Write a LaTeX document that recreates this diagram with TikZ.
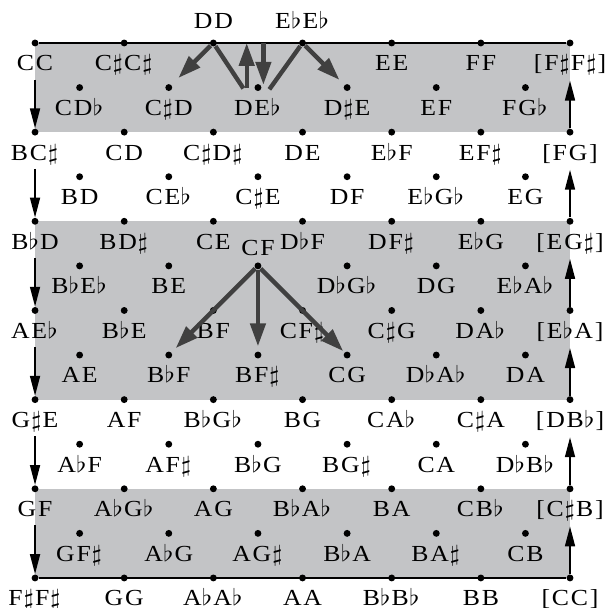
\documentclass[tikz,border=0pt]{standalone}
\usepackage{fontspec}
\setmainfont{Liberation Serif}[LetterSpace=7]
\usepackage{graphicx}
\usetikzlibrary{arrows.meta,positioning}

\definecolor{bandgray}{RGB}{195,196,198}
\definecolor{movegray}{RGB}{64,64,64}
\newcommand{\shrp}{\kern0.04em$\sharp$\kern0.05em}
\newcommand{\flt}{\kern0.02em$\flat$\kern0.05em}
\newcommand{\nlab}[1]{\scalebox{1.12}[1]{#1}}

\begin{document}
\begin{tikzpicture}[
    x=1.5cm, y=1.5cm,
    dot/.style={circle, fill=black, inner sep=0pt, minimum size=3.3pt},
    lab/.style={inner sep=0pt, text height=7.3pt, text depth=1.5pt, font=\fontsize{11}{13}\selectfont},
    sarr/.style={-{Triangle[length=9.5pt,width=4.8pt]}, line width=0.7pt},
    marr/.style={-{Triangle[length=11pt,width=7.2pt]}, line width=2.1pt, draw=movegray},
    mline/.style={line width=2.1pt, draw=movegray},
    edge/.style={line width=0.9pt}
]
\useasboundingbox (-0.393,0.482) rectangle (6.404,-6.337);
% shaded bands
\fill[bandgray] (0,0) rectangle (6,-1);
\fill[bandgray] (0,-2) rectangle (6,-4);
\fill[bandgray] (0,-5) rectangle (6,-6);

% lattice points
\foreach \r in {0,...,6}
  \foreach \c in {0,...,6}
    \node[dot] (r\r\c) at (\c,-\r) {};
\foreach \r in {0,...,5}
  \foreach \c in {0,...,5}
    \node[dot] (h\r\c) at (\c+0.5,-\r-0.5) {};

\draw[edge] (r00) -- (r06);
\draw[edge] (r60) -- (r66);

% labels
\foreach \c/\lb in {0/CC, 1/{C\shrp C\shrp}, 4/EE, 5/FF, 6/{[F\shrp F\shrp]}}
  \node[lab, below=4pt of r0\c] (lr0\c) {\nlab{\lb}};
\node[lab, above=3.5pt of r02] (lr02) {\nlab{DD}};
\node[lab, above=3.5pt of r03] (lr03) {\nlab{E\flt E\flt}};
\foreach \c/\lb in {0/{CD\flt}, 1/{C\shrp D}, 2/{DE\flt}, 3/{D\shrp E}, 4/EF, 5/{FG\flt}}
  \node[lab, below=4pt of h0\c] (lh0\c) {\nlab{\lb}};
\foreach \c/\lb in {0/{BC\shrp}, 1/CD, 2/{C\shrp D\shrp}, 3/DE, 4/{E\flt F}, 5/{EF\shrp}, 6/{[FG]}}
  \node[lab, below=4pt of r1\c] (lr1\c) {\nlab{\lb}};
\foreach \c/\lb in {0/BD, 1/{CE\flt}, 2/{C\shrp E}, 3/DF, 4/{E\flt G\flt}, 5/EG}
  \node[lab, below=4pt of h1\c] (lh1\c) {\nlab{\lb}};
\foreach \c/\lb in {0/{B\flt D}, 1/{BD\shrp}, 2/CE, 3/{D\flt F}, 4/{DF\shrp}, 5/{E\flt G}, 6/{[EG\shrp]}}
  \node[lab, below=4pt of r2\c] (lr2\c) {\nlab{\lb}};
\foreach \c/\lb in {0/{B\flt E\flt}, 1/BE, 3/{D\flt G\flt}, 4/DG, 5/{E\flt A\flt}}
  \node[lab, below=4pt of h2\c] (lh2\c) {\nlab{\lb}};
\node[lab, above=1.2pt of h22] (lh22) {\nlab{CF}};
\foreach \c/\lb in {0/{AE\flt}, 1/{B\flt E}, 2/BF, 3/{CF\shrp}, 4/{C\shrp G}, 5/{DA\flt}, 6/{[E\flt A]}}
  \node[lab, below=4pt of r3\c] (lr3\c) {\nlab{\lb}};
\foreach \c/\lb in {0/AE, 1/{B\flt F}, 2/{BF\shrp}, 3/CG, 4/{D\flt A\flt}, 5/DA}
  \node[lab, below=4pt of h3\c] (lh3\c) {\nlab{\lb}};
\foreach \c/\lb in {0/{G\shrp E}, 1/AF, 2/{B\flt G\flt}, 3/BG, 4/{CA\flt}, 5/{C\shrp A}, 6/{[DB\flt]}}
  \node[lab, below=4pt of r4\c] (lr4\c) {\nlab{\lb}};
\foreach \c/\lb in {0/{A\flt F}, 1/{AF\shrp}, 2/{B\flt G}, 3/{BG\shrp}, 4/CA, 5/{D\flt B\flt}}
  \node[lab, below=4pt of h4\c] (lh4\c) {\nlab{\lb}};
\foreach \c/\lb in {0/GF, 1/{A\flt G\flt}, 2/AG, 3/{B\flt A\flt}, 4/BA, 5/{CB\flt}, 6/{[C\shrp B]}}
  \node[lab, below=4pt of r5\c] (lr5\c) {\nlab{\lb}};
\foreach \c/\lb in {0/{GF\shrp}, 1/{A\flt G}, 2/{AG\shrp}, 3/{B\flt A}, 4/{BA\shrp}, 5/CB}
  \node[lab, below=4pt of h5\c] (lh5\c) {\nlab{\lb}};
\foreach \c/\lb in {0/{F\shrp F\shrp}, 1/GG, 2/{A\flt A\flt}, 3/AA, 4/{B\flt B\flt}, 5/BB, 6/{[CC]}}
  \node[lab, below=4pt of r6\c] (lr6\c) {\nlab{\lb}};

% side arrows
\foreach \r/\n in {0/1,1/2,2/3,3/4,4/5,5/6} {
  \draw[sarr, shorten <=2.5pt] (lr\r0) -- (r\n0);
  \draw[sarr, shorten >=3pt] (r\n6) -- (lr\r6);
}

% moves at the top
\coordinate (ddfoot) at (2.337,-0.51);
\coordinate (upfoot) at (2.374,-0.51);
\coordinate (uptop) at (2.374,0);
\coordinate (dntop) at (2.561,0);
\coordinate (dnfoot) at (2.561,-0.47);
\coordinate (eefoot) at (2.628,-0.52);
\draw[marr, shorten >=4.6pt] (r02) -- (h01);
\draw[mline] (r02) -- (ddfoot);
\draw[marr] (upfoot) -- (uptop);
\draw[marr] (dntop) -- (dnfoot);
\draw[mline] (r03) -- (eefoot);
\draw[marr, shorten >=3.3pt] (r03) -- (h03);

% moves from CF
\draw[marr, shorten >=2.8pt] (h22) -- (h31);
\draw[marr, shorten >=2.3pt] (h22) -- (h32);
\draw[marr, shorten >=0.8pt] (h22) -- (h33);
\end{tikzpicture}
\end{document}
